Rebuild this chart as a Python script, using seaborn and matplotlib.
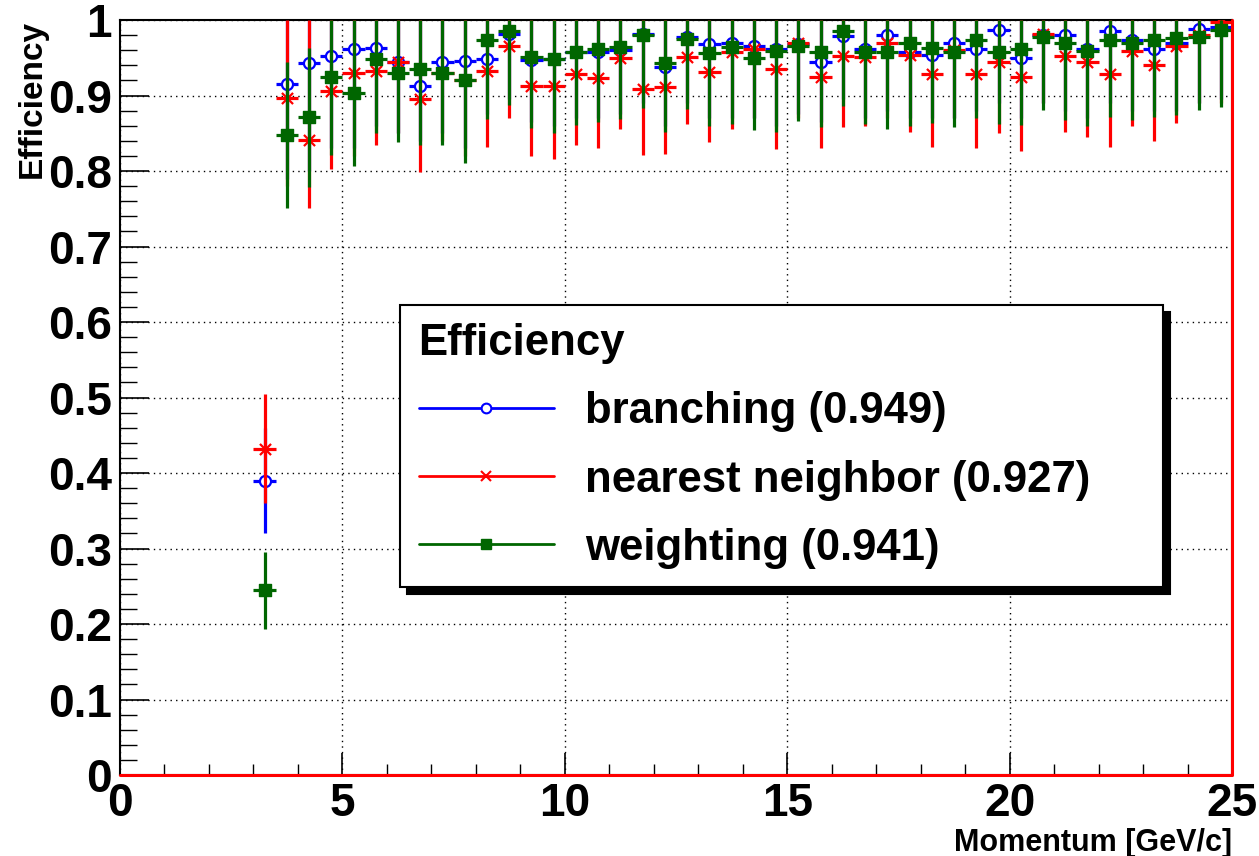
import matplotlib
matplotlib.use("Agg")
import matplotlib.pyplot as plt
from matplotlib.lines import Line2D
from matplotlib.ticker import MultipleLocator, FormatStrFormatter
import seaborn as sns

# bin centres [GeV/c]
momentum = [3.25, 3.75, 4.25, 4.75, 5.25, 5.75, 6.25, 6.75, 7.25, 7.75, 8.25,
            8.75, 9.25, 9.75, 10.25, 10.75, 11.25, 11.75, 12.25, 12.75, 13.25,
            13.75, 14.25, 14.75, 15.25, 15.75, 16.25, 16.75, 17.25, 17.75,
            18.25, 18.75, 19.25, 19.75, 20.25, 20.75, 21.25, 21.75, 22.25,
            22.75, 23.25, 23.75, 24.25, 24.75]
half_bin = 0.25

# branching
eff_branch = [0.389, 0.915, 0.943, 0.952, 0.962, 0.963, 0.945, 0.912, 0.945, 0.946,
              0.949, 0.982, 0.947, 0.948, 0.958, 0.958, 0.960, 0.982, 0.938, 0.978,
              0.968, 0.969, 0.966, 0.962, 0.968, 0.945, 0.979, 0.961, 0.980, 0.958,
              0.954, 0.969, 0.962, 0.987, 0.950, 0.980, 0.980, 0.962, 0.985, 0.974,
              0.962, 0.969, 0.988, 0.991]
lo_branch = [0.321, 0.790, 0.800, 0.830, 0.830, 0.860, 0.850, 0.840, 0.850, 0.830,
             0.875, 0.895, 0.865, 0.860, 0.870, 0.870, 0.875, 0.890, 0.860, 0.890,
             0.870, 0.870, 0.870, 0.860, 0.875, 0.865, 0.895, 0.870, 0.880, 0.870,
             0.870, 0.870, 0.880, 0.890, 0.870, 0.890, 0.880, 0.870, 0.890, 0.880,
             0.880, 0.880, 0.890, 0.895]
hi_branch = [0.460] + [1.0] * 43

# nearest neighbor
eff_nn = [0.432, 0.897, 0.841, 0.906, 0.930, 0.932, 0.945, 0.895, 0.930, 0.920,
          0.933, 0.966, 0.912, 0.912, 0.928, 0.923, 0.950, 0.909, 0.911, 0.951,
          0.931, 0.958, 0.962, 0.935, 0.970, 0.925, 0.953, 0.951, 0.969, 0.954,
          0.928, 0.960, 0.929, 0.944, 0.925, 0.982, 0.953, 0.944, 0.929, 0.959,
          0.940, 0.965, 0.980, 0.997]
lo_nn = [0.360, 0.780, 0.751, 0.803, 0.820, 0.835, 0.850, 0.799, 0.840, 0.820,
         0.832, 0.870, 0.820, 0.816, 0.835, 0.830, 0.856, 0.821, 0.823, 0.862,
         0.838, 0.856, 0.870, 0.829, 0.870, 0.830, 0.858, 0.860, 0.870, 0.852,
         0.832, 0.870, 0.830, 0.851, 0.826, 0.890, 0.852, 0.845, 0.832, 0.860,
         0.840, 0.863, 0.890, 0.890]
hi_nn = [0.505] + [1.0] * 43

# weighting
eff_w = [0.245, 0.848, 0.872, 0.924, 0.903, 0.948, 0.930, 0.935, 0.930, 0.921,
         0.974, 0.986, 0.951, 0.948, 0.958, 0.962, 0.964, 0.980, 0.943, 0.975,
         0.956, 0.964, 0.950, 0.959, 0.966, 0.957, 0.985, 0.957, 0.958, 0.969,
         0.963, 0.958, 0.974, 0.958, 0.962, 0.977, 0.969, 0.959, 0.974, 0.970,
         0.974, 0.976, 0.977, 0.987]
lo_w = [0.193, 0.751, 0.779, 0.821, 0.807, 0.850, 0.838, 0.834, 0.834, 0.811,
        0.869, 0.887, 0.857, 0.850, 0.861, 0.865, 0.869, 0.884, 0.852, 0.882,
        0.860, 0.862, 0.854, 0.852, 0.866, 0.858, 0.886, 0.862, 0.856, 0.860,
        0.864, 0.858, 0.870, 0.862, 0.861, 0.881, 0.868, 0.860, 0.872, 0.868,
        0.871, 0.874, 0.881, 0.885]
hi_w = [0.295, 0.944, 0.963] + [1.0] * 41

labels = ["branching (0.949)", "nearest neighbor (0.927)", "weighting (0.941)"]
colors = ["#0000ff", "#ff0000", "#006600"]

sns.set_style("ticks")
plt.rcParams["font.family"] = ["Liberation Sans", "DejaVu Sans"]
plt.rcParams["font.weight"] = "bold"
for key in ["text.color", "axes.labelcolor", "xtick.color", "ytick.color",
            "xtick.labelcolor", "ytick.labelcolor"]:
    plt.rcParams[key] = "black"

fig = plt.figure(figsize=(12.59, 8.56), dpi=100)
ax = fig.add_axes([0.0953, 0.0946, 0.8833, 0.882])

series = [
    (eff_branch, lo_branch, hi_branch, "o", 8, "white", 1.6),
    (eff_nn, lo_nn, hi_nn, "x", 8, colors[1], 1.6),
    (eff_w, lo_w, hi_w, "s", 8, colors[2], 1.0),
]
for i, (eff, lo, hi, mk, ms, fc, mew) in enumerate(series):
    col = colors[i]
    yerr = [[e - l for e, l in zip(eff, lo)], [h - e for e, h in zip(eff, hi)]]
    ax.errorbar(momentum, eff, yerr=yerr, xerr=half_bin, fmt="none",
                ecolor=col, elinewidth=2.3, capsize=0, zorder=2 + i)
    sns.scatterplot(x=momentum, y=eff, ax=ax, marker=mk, s=ms ** 2,
                    facecolor=fc, edgecolor=col, linewidth=mew,
                    color=col, zorder=2.5 + i, legend=False)

# red histogram frame drawn by ROOT along the bottom and right edge
ax.plot([0, 25, 25], [0, 0, 1], color="#ff0000", lw=2.2, zorder=6, clip_on=False)

ax.set_xlim(0, 25)
ax.set_ylim(0, 1)
ax.xaxis.set_major_locator(MultipleLocator(5))
ax.xaxis.set_minor_locator(MultipleLocator(1))
ax.yaxis.set_major_locator(MultipleLocator(0.1))
ax.yaxis.set_minor_locator(MultipleLocator(0.02))
ax.yaxis.set_major_formatter(FormatStrFormatter("%g"))
ax.tick_params(which="both", direction="in", top=False, right=False, labelsize=33,
               colors="black")
ax.tick_params(axis="y", which="major", length=21, width=1.2, pad=6)
ax.tick_params(axis="y", which="minor", length=12, width=1.0)
ax.tick_params(axis="x", which="major", length=16, width=1.2, pad=5)
ax.tick_params(axis="x", which="minor", length=8, width=1.0)
for lab in ax.get_xticklabels() + ax.get_yticklabels():
    lab.set_fontweight("bold")
ax.grid(True, which="major", color="black", linestyle=(0, (1, 3)), linewidth=1.0)
for sp in ax.spines.values():
    sp.set_linewidth(1.5)
    sp.set_color("black")
ax.set_xlabel("")
ax.set_ylabel("")

fig.text(0.026, 0.977, "Efficiency", rotation=90, ha="center", va="top",
         fontsize=24, fontweight="bold", color="black")
fig.text(0.9786, 0.0058, "Momentum [GeV/c]", ha="right", va="baseline",
         fontsize=22, fontweight="bold", color="black")

handles = [
    Line2D([], [], color=colors[0], lw=2, marker="o", ms=7, mfc="white", mec=colors[0], mew=1.5),
    Line2D([], [], color=colors[1], lw=2, marker="x", ms=7, mec=colors[1], mew=1.5),
    Line2D([], [], color=colors[2], lw=2, marker="s", ms=7, mfc=colors[2], mec=colors[2]),
]
leg = ax.legend(handles, labels, title="Efficiency", loc="upper left",
                bbox_to_anchor=(0.252, 0.2517, 0.686, 0.371), mode="expand",
                borderaxespad=0, fontsize=31.5,
                title_fontproperties={"size": 31.5, "weight": "bold"},
                alignment="left", handlelength=3.1, handletextpad=0.7,
                labelspacing=0.62, borderpad=0.42, fancybox=False, framealpha=1,
                edgecolor="black", labelcolor="black",
                shadow={"color": "black", "ox": 5, "oy": -5, "alpha": 1})
leg.get_frame().set_linewidth(1.5)
leg.get_title().set_color("black")
leg.set_zorder(10)
for t in leg.get_texts():
    t.set_fontweight("bold")

fig.savefig("out.png", dpi=100)
